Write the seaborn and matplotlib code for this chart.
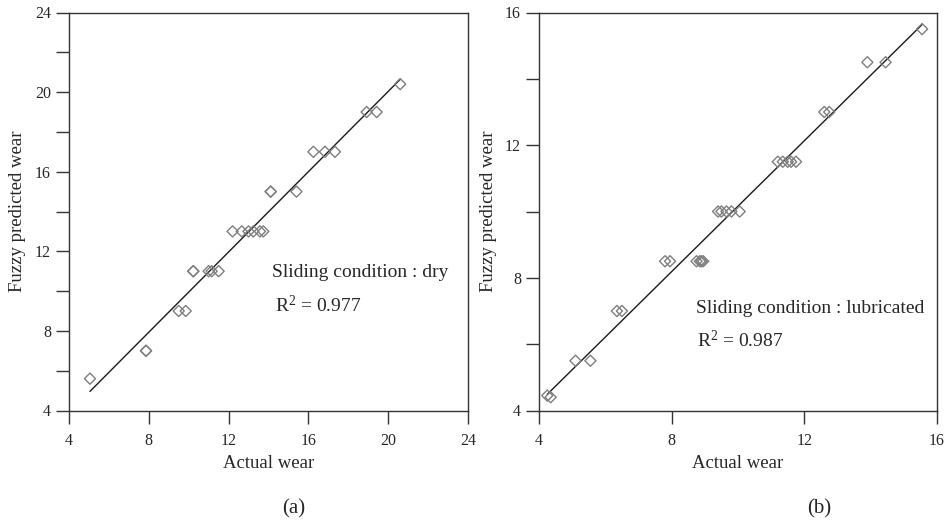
import numpy as np
import pandas as pd
import matplotlib
matplotlib.use("Agg")
import matplotlib.pyplot as plt
from matplotlib.ticker import MultipleLocator
import seaborn as sns

# ---- data ----
dry_actual = [5.05, 7.86, 7.86, 9.5, 9.85, 10.23, 10.23, 11.0, 11.15, 11.5,
              12.2, 12.66, 13.0, 13.24, 13.57, 13.74, 14.11, 14.11, 15.4,
              16.25, 16.83, 17.33, 18.92, 19.42, 20.6]
dry_pred = [5.6, 7.0, 7.0, 9.0, 9.0, 11.0, 11.0, 11.0, 11.0, 11.0,
            13.0, 13.0, 13.0, 13.0, 13.0, 13.0, 15.0, 15.0, 15.0,
            17.0, 17.0, 17.0, 19.0, 19.0, 20.4]

lub_actual = [4.25, 4.35, 5.1, 5.55, 6.35, 6.5, 7.8, 7.95, 8.75, 8.85, 8.9, 8.95,
              9.4, 9.5, 9.65, 9.8, 10.05, 11.2, 11.35, 11.5, 11.6, 11.75,
              12.6, 12.75, 13.9, 14.45, 15.55]
lub_pred = [4.45, 4.4, 5.5, 5.5, 7.0, 7.0, 8.5, 8.5, 8.5, 8.5, 8.5, 8.5,
            10.0, 10.0, 10.0, 10.0, 10.0, 11.5, 11.5, 11.5, 11.5, 11.5,
            13.0, 13.0, 14.5, 14.5, 15.5]

dry_ticks = [4, 8, 12, 16, 20, 24]
lub_ticks = [4, 8, 12, 16]
x_label = "Actual wear"
y_label = "Fuzzy predicted wear"
dry_text = "Sliding condition : dry"
dry_r2 = r"R$^{\mathbf{2}}$ = 0.977"
lub_text = "Sliding condition : lubricated"
lub_r2 = r"R$^{\mathbf{2}}$ = 0.987"
panel_labels = ["(a)", "(b)"]

sns.set_theme(style="white")
plt.rcParams["font.family"] = ["Liberation Serif", "DejaVu Serif"]
plt.rcParams["mathtext.fontset"] = "custom"
plt.rcParams["mathtext.rm"] = "Liberation Serif"
plt.rcParams["mathtext.bf"] = "Liberation Serif"
plt.rcParams["mathtext.it"] = "Liberation Serif:italic"

TXT = "#262626"
fig = plt.figure(figsize=(9.45, 5.26), dpi=100)
fig.patch.set_facecolor("white")
ax1 = fig.add_axes([69 / 945, 115.5 / 526, 399 / 945, 398 / 526])
ax2 = fig.add_axes([539 / 945, 115.5 / 526, 398 / 945, 398 / 526])


def panel(ax, xs, ys, ticks, txt, r2, tpos, label, lab_x):
    df = pd.DataFrame({"a": xs, "p": ys})
    sns.regplot(data=df, x="a", y="p", ax=ax, ci=None, truncate=True,
                marker="D",
                scatter_kws=dict(s=32, facecolors="none", edgecolors="#7f7f7f",
                                 linewidths=1.0, alpha=1, color="#7f7f7f", zorder=3),
                line_kws=dict(color="#1a1a1a", lw=1.0, zorder=2))
    lo, hi = ticks[0], ticks[-1]
    ax.set_xlim(lo, hi)
    ax.set_ylim(lo, hi)
    ax.set_xticks(ticks)
    ax.set_yticks(ticks)
    ax.yaxis.set_minor_locator(MultipleLocator(2))
    ax.tick_params(axis="both", which="both", direction="out", length=9.5,
                   width=1.0, color="#333333", labelcolor=TXT, labelsize=11.5,
                   left=True, bottom=True)
    ax.tick_params(axis="x", pad=6.5)
    ax.tick_params(axis="y", pad=3.5)
    for s in ax.spines.values():
        s.set_visible(True)
        s.set_color("#333333")
        s.set_linewidth(1.0)
    ax.set_xlabel(x_label, fontsize=13.5, color=TXT, va="center")
    ax.set_ylabel(y_label, fontsize=13.5, color=TXT, va="center")
    ax.xaxis.set_label_coords(0.5, -0.133)
    ax.yaxis.set_label_coords(-0.128, 0.5)
    ax.text(tpos[0], tpos[1], txt, fontsize=14, color=TXT, va="center", ha="left")
    ax.text(tpos[0] + tpos[4], tpos[2], r2, fontsize=14, color=TXT, va="center", ha="left")
    fig.text(lab_x, 1 - 509 / 526, label, fontsize=15, color=TXT, ha="center", va="center")


panel(ax1, dry_actual, dry_pred, dry_ticks, dry_text, dry_r2,
      (14.18, 10.93, 9.28, None, 0.15), panel_labels[0], 294 / 945)
panel(ax2, lub_actual, lub_pred, lub_ticks, lub_text, lub_r2,
      (8.73, 7.09, 6.12, None, 0.03), panel_labels[1], 819 / 945)

fig.savefig("out.png", dpi=100, facecolor="white")
